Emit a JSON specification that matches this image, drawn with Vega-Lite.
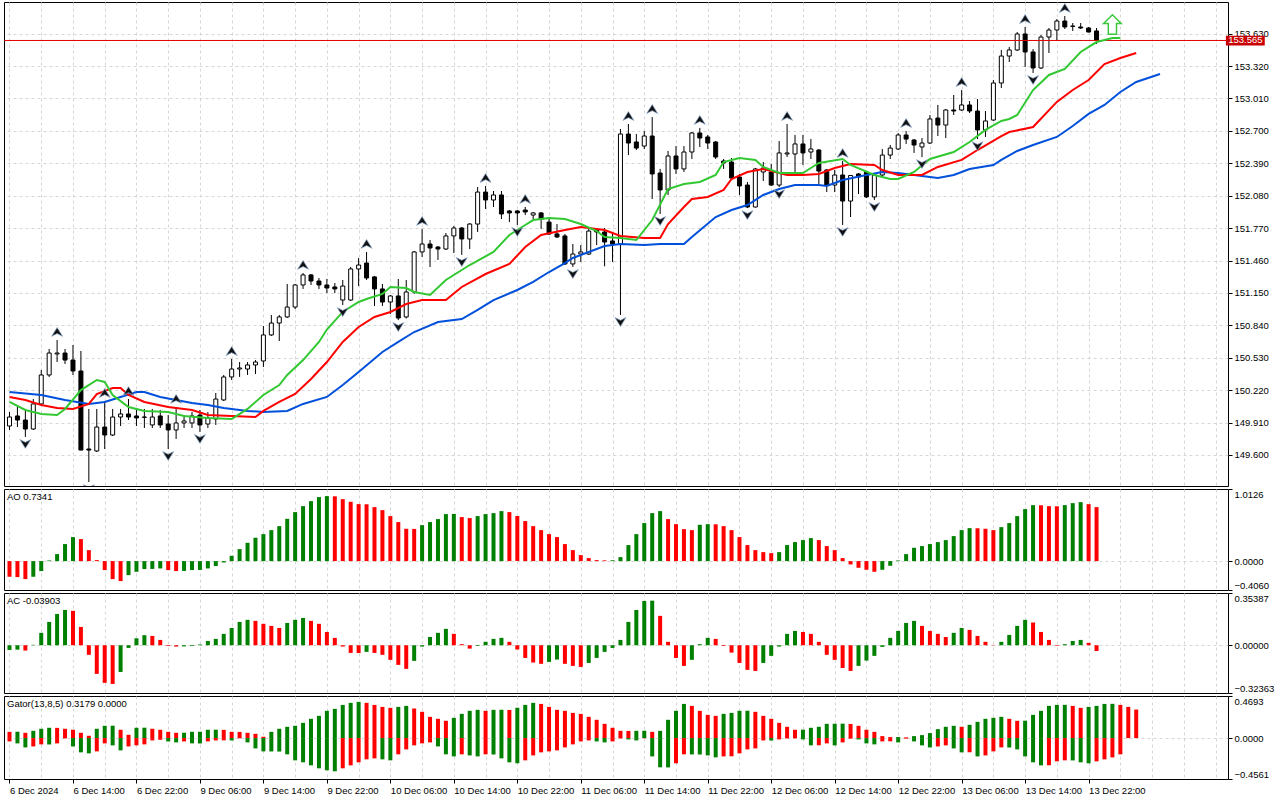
{
  "$schema": "https://vega.github.io/schema/vega-lite/v6.json",
  "background": "#ffffff",
  "padding": {"left": 3, "top": 1, "right": 4, "bottom": 2},
  "spacing": 3,
  "bounds": "flush",
  "resolve": {"scale": {"color": "independent"}},
  "config": {
    "view": {"stroke": "#000000", "strokeWidth": 1},
    "font": "Liberation Sans",
    "axis": {
      "labelFont": "Liberation Sans",
      "labelFontSize": 9.5,
      "labelColor": "#000000",
      "tickColor": "#000000",
      "gridColor": "#d6d6d6",
      "gridDash": [3, 3],
      "domain": false,
      "labelOverlap": false
    },
    "title": {"font": "Liberation Sans", "fontSize": 9.5, "fontWeight": "normal", "color": "#000000", "anchor": "start"}
  },
  "datasets": {
    "candles": [
      {"i":0,"o":149.877,"h":150.011,"l":149.839,"c":149.963},
      {"i":1,"o":149.973,"h":150.059,"l":149.867,"c":149.934},
      {"i":2,"o":149.934,"h":150.040,"l":149.772,"c":149.848},
      {"i":3,"o":149.848,"h":150.135,"l":149.839,"c":150.088},
      {"i":4,"o":150.088,"h":150.413,"l":150.078,"c":150.365},
      {"i":5,"o":150.365,"h":150.614,"l":150.346,"c":150.575},
      {"i":6,"o":150.566,"h":150.700,"l":150.489,"c":150.575},
      {"i":7,"o":150.575,"h":150.614,"l":150.470,"c":150.508},
      {"i":8,"o":150.508,"h":150.652,"l":150.365,"c":150.403},
      {"i":9,"o":150.403,"h":150.595,"l":149.645,"c":149.647},
      {"i":10,"o":149.657,"h":150.040,"l":149.341,"c":149.647},
      {"i":11,"o":149.638,"h":150.040,"l":149.628,"c":149.867},
      {"i":12,"o":149.867,"h":150.116,"l":149.657,"c":149.791},
      {"i":13,"o":149.791,"h":150.040,"l":149.781,"c":149.963},
      {"i":14,"o":149.963,"h":150.040,"l":149.877,"c":149.992},
      {"i":15,"o":149.992,"h":150.135,"l":149.934,"c":149.963},
      {"i":16,"o":149.973,"h":150.049,"l":149.877,"c":149.954},
      {"i":17,"o":149.963,"h":150.040,"l":149.858,"c":149.960},
      {"i":18,"o":149.887,"h":150.040,"l":149.858,"c":149.963},
      {"i":19,"o":149.973,"h":150.030,"l":149.858,"c":149.887},
      {"i":20,"o":149.896,"h":149.982,"l":149.657,"c":149.839},
      {"i":21,"o":149.839,"h":150.059,"l":149.753,"c":149.906},
      {"i":22,"o":149.906,"h":149.982,"l":149.858,"c":149.925},
      {"i":23,"o":149.906,"h":150.011,"l":149.858,"c":149.973},
      {"i":24,"o":149.982,"h":150.030,"l":149.820,"c":149.887},
      {"i":25,"o":149.896,"h":150.011,"l":149.858,"c":149.954},
      {"i":26,"o":149.944,"h":150.193,"l":149.887,"c":150.135},
      {"i":27,"o":150.126,"h":150.365,"l":150.116,"c":150.346},
      {"i":28,"o":150.346,"h":150.518,"l":150.317,"c":150.422},
      {"i":29,"o":150.422,"h":150.489,"l":150.346,"c":150.432},
      {"i":30,"o":150.422,"h":150.489,"l":150.365,"c":150.461},
      {"i":31,"o":150.461,"h":150.508,"l":150.374,"c":150.489},
      {"i":32,"o":150.499,"h":150.834,"l":150.441,"c":150.748},
      {"i":33,"o":150.748,"h":150.939,"l":150.738,"c":150.862},
      {"i":34,"o":150.862,"h":150.939,"l":150.690,"c":150.920},
      {"i":35,"o":150.920,"h":151.236,"l":150.910,"c":151.015},
      {"i":36,"o":151.015,"h":151.236,"l":150.996,"c":151.226},
      {"i":37,"o":151.226,"h":151.341,"l":151.188,"c":151.322},
      {"i":38,"o":151.322,"h":151.331,"l":151.226,"c":151.264},
      {"i":39,"o":151.264,"h":151.293,"l":151.188,"c":151.226},
      {"i":40,"o":151.226,"h":151.283,"l":151.149,"c":151.197},
      {"i":41,"o":151.207,"h":151.245,"l":151.149,"c":151.188},
      {"i":42,"o":151.082,"h":151.274,"l":151.034,"c":151.216},
      {"i":43,"o":151.082,"h":151.398,"l":151.073,"c":151.379},
      {"i":44,"o":151.379,"h":151.484,"l":151.216,"c":151.417},
      {"i":45,"o":151.436,"h":151.542,"l":151.274,"c":151.293},
      {"i":46,"o":151.303,"h":151.312,"l":151.025,"c":151.188},
      {"i":47,"o":151.188,"h":151.236,"l":151.025,"c":151.063},
      {"i":48,"o":151.063,"h":151.130,"l":150.948,"c":151.121},
      {"i":49,"o":151.121,"h":151.283,"l":150.891,"c":150.910},
      {"i":50,"o":150.920,"h":151.274,"l":150.905,"c":151.159},
      {"i":51,"o":151.159,"h":151.551,"l":151.140,"c":151.542},
      {"i":52,"o":151.542,"h":151.762,"l":151.494,"c":151.618},
      {"i":53,"o":151.618,"h":151.656,"l":151.398,"c":151.580},
      {"i":54,"o":151.589,"h":151.599,"l":151.465,"c":151.570},
      {"i":55,"o":151.570,"h":151.723,"l":151.561,"c":151.695},
      {"i":56,"o":151.695,"h":151.790,"l":151.532,"c":151.771},
      {"i":57,"o":151.771,"h":151.781,"l":151.513,"c":151.666},
      {"i":58,"o":151.666,"h":151.819,"l":151.570,"c":151.809},
      {"i":59,"o":151.809,"h":152.163,"l":151.733,"c":152.115},
      {"i":60,"o":152.115,"h":152.173,"l":151.953,"c":152.039},
      {"i":61,"o":152.039,"h":152.125,"l":151.972,"c":152.087},
      {"i":62,"o":152.087,"h":152.125,"l":151.857,"c":151.905},
      {"i":63,"o":151.934,"h":151.943,"l":151.828,"c":151.915},
      {"i":64,"o":151.934,"h":151.943,"l":151.800,"c":151.915},
      {"i":65,"o":151.943,"h":151.972,"l":151.895,"c":151.924},
      {"i":66,"o":151.895,"h":151.924,"l":151.857,"c":151.915},
      {"i":67,"o":151.915,"h":151.924,"l":151.762,"c":151.857},
      {"i":68,"o":151.828,"h":151.876,"l":151.704,"c":151.714},
      {"i":69,"o":151.714,"h":151.809,"l":151.675,"c":151.685},
      {"i":70,"o":151.695,"h":151.714,"l":151.417,"c":151.427},
      {"i":71,"o":151.427,"h":151.618,"l":151.398,"c":151.522},
      {"i":72,"o":151.522,"h":151.608,"l":151.446,"c":151.542},
      {"i":73,"o":151.522,"h":151.762,"l":151.513,"c":151.742},
      {"i":74,"o":151.752,"h":151.762,"l":151.608,"c":151.733},
      {"i":75,"o":151.733,"h":151.771,"l":151.405,"c":151.637},
      {"i":76,"o":151.647,"h":151.733,"l":151.446,"c":151.618},
      {"i":77,"o":151.618,"h":152.718,"l":150.939,"c":152.670},
      {"i":78,"o":152.670,"h":152.766,"l":152.469,"c":152.584},
      {"i":79,"o":152.594,"h":152.670,"l":152.517,"c":152.536},
      {"i":80,"o":152.555,"h":152.699,"l":152.527,"c":152.651},
      {"i":81,"o":152.651,"h":152.833,"l":152.048,"c":152.288},
      {"i":82,"o":152.297,"h":152.336,"l":151.905,"c":152.135},
      {"i":83,"o":152.135,"h":152.508,"l":152.087,"c":152.460},
      {"i":84,"o":152.460,"h":152.555,"l":152.288,"c":152.336},
      {"i":85,"o":152.336,"h":152.555,"l":152.307,"c":152.498},
      {"i":86,"o":152.498,"h":152.689,"l":152.431,"c":152.680},
      {"i":87,"o":152.680,"h":152.728,"l":152.546,"c":152.632},
      {"i":88,"o":152.642,"h":152.661,"l":152.527,"c":152.584},
      {"i":89,"o":152.594,"h":152.603,"l":152.431,"c":152.450},
      {"i":90,"o":152.412,"h":152.431,"l":152.336,"c":152.393},
      {"i":91,"o":152.402,"h":152.441,"l":152.240,"c":152.249},
      {"i":92,"o":152.259,"h":152.288,"l":152.087,"c":152.173},
      {"i":93,"o":152.182,"h":152.211,"l":151.962,"c":151.972},
      {"i":94,"o":151.972,"h":152.345,"l":151.967,"c":152.336},
      {"i":95,"o":152.307,"h":152.402,"l":152.221,"c":152.345},
      {"i":96,"o":152.307,"h":152.383,"l":152.173,"c":152.182},
      {"i":97,"o":152.182,"h":152.603,"l":152.163,"c":152.489},
      {"i":98,"o":152.479,"h":152.766,"l":152.450,"c":152.489},
      {"i":99,"o":152.479,"h":152.661,"l":152.307,"c":152.575},
      {"i":100,"o":152.575,"h":152.661,"l":152.374,"c":152.489},
      {"i":101,"o":152.498,"h":152.622,"l":152.431,"c":152.527},
      {"i":102,"o":152.517,"h":152.527,"l":152.192,"c":152.316},
      {"i":103,"o":152.326,"h":152.336,"l":152.115,"c":152.182},
      {"i":104,"o":152.182,"h":152.326,"l":152.115,"c":152.278},
      {"i":105,"o":152.278,"h":152.412,"l":151.800,"c":152.029},
      {"i":106,"o":152.029,"h":152.278,"l":151.876,"c":152.273},
      {"i":107,"o":152.288,"h":152.297,"l":152.096,"c":152.259},
      {"i":108,"o":152.307,"h":152.316,"l":152.058,"c":152.068},
      {"i":109,"o":152.068,"h":152.288,"l":152.039,"c":152.278},
      {"i":110,"o":152.278,"h":152.527,"l":152.259,"c":152.469},
      {"i":111,"o":152.469,"h":152.565,"l":152.431,"c":152.536},
      {"i":112,"o":152.527,"h":152.680,"l":152.517,"c":152.661},
      {"i":113,"o":152.661,"h":152.699,"l":152.575,"c":152.622},
      {"i":114,"o":152.613,"h":152.622,"l":152.489,"c":152.565},
      {"i":115,"o":152.546,"h":152.632,"l":152.450,"c":152.584},
      {"i":116,"o":152.584,"h":152.852,"l":152.575,"c":152.814},
      {"i":117,"o":152.823,"h":152.948,"l":152.651,"c":152.756},
      {"i":118,"o":152.756,"h":152.909,"l":152.632,"c":152.900},
      {"i":119,"o":152.900,"h":153.043,"l":152.852,"c":152.890},
      {"i":120,"o":152.900,"h":153.091,"l":152.890,"c":152.948},
      {"i":121,"o":152.948,"h":152.986,"l":152.871,"c":152.890},
      {"i":122,"o":152.890,"h":153.005,"l":152.622,"c":152.709},
      {"i":123,"o":152.709,"h":152.890,"l":152.642,"c":152.795},
      {"i":124,"o":152.804,"h":153.187,"l":152.795,"c":153.158},
      {"i":125,"o":153.158,"h":153.474,"l":153.110,"c":153.416},
      {"i":126,"o":153.416,"h":153.503,"l":153.359,"c":153.474},
      {"i":127,"o":153.474,"h":153.646,"l":153.464,"c":153.627},
      {"i":128,"o":153.627,"h":153.694,"l":153.311,"c":153.455},
      {"i":129,"o":153.455,"h":153.483,"l":153.254,"c":153.302},
      {"i":130,"o":153.302,"h":153.617,"l":153.292,"c":153.598},
      {"i":131,"o":153.598,"h":153.684,"l":153.445,"c":153.665},
      {"i":132,"o":153.665,"h":153.770,"l":153.560,"c":153.751},
      {"i":133,"o":153.751,"h":153.799,"l":153.675,"c":153.694},
      {"i":134,"o":153.703,"h":153.732,"l":153.656,"c":153.700},
      {"i":135,"o":153.694,"h":153.732,"l":153.675,"c":153.684},
      {"i":136,"o":153.684,"h":153.694,"l":153.641,"c":153.646},
      {"i":137,"o":153.656,"h":153.684,"l":153.531,"c":153.565}
    ],
    "alligator": [
      {"i":0,"line":"jaw","v":150.202},{"i":4,"line":"jaw","v":150.174},{"i":7,"line":"jaw","v":150.126},{"i":10,"line":"jaw","v":150.088},
      {"i":12,"line":"jaw","v":150.107},{"i":14,"line":"jaw","v":150.155},{"i":16,"line":"jaw","v":150.202},{"i":17,"line":"jaw","v":150.202},
      {"i":19,"line":"jaw","v":150.155},{"i":21,"line":"jaw","v":150.126},{"i":23,"line":"jaw","v":150.097},{"i":25,"line":"jaw","v":150.078},
      {"i":27,"line":"jaw","v":150.049},{"i":30,"line":"jaw","v":150.021},{"i":32,"line":"jaw","v":150.011},{"i":35,"line":"jaw","v":150.021},
      {"i":37,"line":"jaw","v":150.088},{"i":40,"line":"jaw","v":150.155},{"i":42,"line":"jaw","v":150.269},{"i":44,"line":"jaw","v":150.394},
      {"i":47,"line":"jaw","v":150.585},{"i":49,"line":"jaw","v":150.681},{"i":51,"line":"jaw","v":150.776},{"i":54,"line":"jaw","v":150.872},
      {"i":57,"line":"jaw","v":150.900},{"i":59,"line":"jaw","v":150.987},{"i":61,"line":"jaw","v":151.082},{"i":64,"line":"jaw","v":151.178},
      {"i":66,"line":"jaw","v":151.255},{"i":68,"line":"jaw","v":151.350},{"i":70,"line":"jaw","v":151.436},{"i":71,"line":"jaw","v":151.484},
      {"i":73,"line":"jaw","v":151.542},{"i":75,"line":"jaw","v":151.599},{"i":77,"line":"jaw","v":151.618},{"i":80,"line":"jaw","v":151.608},
      {"i":82,"line":"jaw","v":151.618},{"i":85,"line":"jaw","v":151.618},{"i":86,"line":"jaw","v":151.685},{"i":89,"line":"jaw","v":151.876},
      {"i":91,"line":"jaw","v":151.943},{"i":93,"line":"jaw","v":151.991},{"i":95,"line":"jaw","v":152.087},{"i":97,"line":"jaw","v":152.144},
      {"i":99,"line":"jaw","v":152.182},{"i":102,"line":"jaw","v":152.182},{"i":103,"line":"jaw","v":152.173},{"i":105,"line":"jaw","v":152.230},
      {"i":108,"line":"jaw","v":152.278},{"i":110,"line":"jaw","v":152.307},{"i":112,"line":"jaw","v":152.297},{"i":115,"line":"jaw","v":152.268},
      {"i":117,"line":"jaw","v":152.249},{"i":119,"line":"jaw","v":152.278},{"i":121,"line":"jaw","v":152.336},{"i":124,"line":"jaw","v":152.374},
      {"i":125,"line":"jaw","v":152.422},{"i":127,"line":"jaw","v":152.508},{"i":129,"line":"jaw","v":152.565},{"i":132,"line":"jaw","v":152.642},
      {"i":134,"line":"jaw","v":152.747},{"i":136,"line":"jaw","v":152.862},{"i":138,"line":"jaw","v":152.948},{"i":140,"line":"jaw","v":153.072},
      {"i":142,"line":"jaw","v":153.168},{"i":145,"line":"jaw","v":153.244},
      {"i":0,"line":"teeth","v":150.155},{"i":2,"line":"teeth","v":150.126},{"i":4,"line":"teeth","v":150.078},{"i":6,"line":"teeth","v":150.049},
      {"i":8,"line":"teeth","v":150.040},{"i":10,"line":"teeth","v":150.088},{"i":11,"line":"teeth","v":150.183},{"i":13,"line":"teeth","v":150.241},
      {"i":14,"line":"teeth","v":150.241},{"i":15,"line":"teeth","v":150.174},{"i":17,"line":"teeth","v":150.107},{"i":20,"line":"teeth","v":150.059},
      {"i":23,"line":"teeth","v":150.030},{"i":25,"line":"teeth","v":149.982},{"i":28,"line":"teeth","v":149.973},{"i":31,"line":"teeth","v":149.963},
      {"i":32,"line":"teeth","v":150.021},{"i":34,"line":"teeth","v":150.107},{"i":36,"line":"teeth","v":150.183},{"i":38,"line":"teeth","v":150.327},
      {"i":40,"line":"teeth","v":150.489},{"i":42,"line":"teeth","v":150.681},{"i":44,"line":"teeth","v":150.824},{"i":46,"line":"teeth","v":150.920},
      {"i":48,"line":"teeth","v":150.968},{"i":50,"line":"teeth","v":151.044},{"i":52,"line":"teeth","v":151.082},{"i":55,"line":"teeth","v":151.082},
      {"i":57,"line":"teeth","v":151.207},{"i":60,"line":"teeth","v":151.331},{"i":63,"line":"teeth","v":151.427},{"i":65,"line":"teeth","v":151.589},
      {"i":67,"line":"teeth","v":151.704},{"i":70,"line":"teeth","v":151.752},{"i":72,"line":"teeth","v":151.781},{"i":74,"line":"teeth","v":151.762},
      {"i":75,"line":"teeth","v":151.752},{"i":77,"line":"teeth","v":151.695},{"i":80,"line":"teeth","v":151.675},{"i":82,"line":"teeth","v":151.675},
      {"i":83,"line":"teeth","v":151.809},{"i":85,"line":"teeth","v":151.972},{"i":86,"line":"teeth","v":152.048},{"i":88,"line":"teeth","v":152.068},
      {"i":90,"line":"teeth","v":152.135},{"i":91,"line":"teeth","v":152.240},{"i":93,"line":"teeth","v":152.307},{"i":95,"line":"teeth","v":152.336},
      {"i":96,"line":"teeth","v":152.316},{"i":98,"line":"teeth","v":152.278},{"i":100,"line":"teeth","v":152.278},{"i":102,"line":"teeth","v":152.288},
      {"i":104,"line":"teeth","v":152.345},{"i":106,"line":"teeth","v":152.383},{"i":109,"line":"teeth","v":152.374},{"i":110,"line":"teeth","v":152.326},
      {"i":112,"line":"teeth","v":152.278},{"i":115,"line":"teeth","v":152.278},{"i":117,"line":"teeth","v":152.355},{"i":120,"line":"teeth","v":152.422},
      {"i":122,"line":"teeth","v":152.517},{"i":125,"line":"teeth","v":152.651},{"i":126,"line":"teeth","v":152.689},{"i":129,"line":"teeth","v":152.737},
      {"i":132,"line":"teeth","v":152.977},{"i":134,"line":"teeth","v":153.091},{"i":136,"line":"teeth","v":153.187},{"i":138,"line":"teeth","v":153.340},
      {"i":140,"line":"teeth","v":153.397},{"i":142,"line":"teeth","v":153.445},
      {"i":0,"line":"lips","v":150.107},{"i":2,"line":"lips","v":150.030},{"i":4,"line":"lips","v":149.992},{"i":6,"line":"lips","v":149.982},
      {"i":7,"line":"lips","v":150.040},{"i":9,"line":"lips","v":150.221},{"i":11,"line":"lips","v":150.317},{"i":12,"line":"lips","v":150.298},
      {"i":13,"line":"lips","v":150.174},{"i":15,"line":"lips","v":150.059},{"i":17,"line":"lips","v":150.021},{"i":20,"line":"lips","v":150.011},
      {"i":22,"line":"lips","v":149.973},{"i":25,"line":"lips","v":149.954},{"i":28,"line":"lips","v":149.944},{"i":30,"line":"lips","v":150.040},
      {"i":32,"line":"lips","v":150.174},{"i":34,"line":"lips","v":150.269},{"i":35,"line":"lips","v":150.365},{"i":37,"line":"lips","v":150.508},
      {"i":39,"line":"lips","v":150.681},{"i":40,"line":"lips","v":150.800},{"i":42,"line":"lips","v":150.968},{"i":44,"line":"lips","v":151.063},
      {"i":45,"line":"lips","v":151.092},{"i":47,"line":"lips","v":151.140},{"i":48,"line":"lips","v":151.207},{"i":50,"line":"lips","v":151.197},
      {"i":51,"line":"lips","v":151.159},{"i":53,"line":"lips","v":151.130},{"i":55,"line":"lips","v":151.274},{"i":58,"line":"lips","v":151.417},
      {"i":61,"line":"lips","v":151.542},{"i":63,"line":"lips","v":151.704},{"i":65,"line":"lips","v":151.800},{"i":66,"line":"lips","v":151.847},
      {"i":68,"line":"lips","v":151.866},{"i":70,"line":"lips","v":151.857},{"i":72,"line":"lips","v":151.809},{"i":74,"line":"lips","v":151.742},
      {"i":75,"line":"lips","v":151.685},{"i":77,"line":"lips","v":151.675},{"i":79,"line":"lips","v":151.656},{"i":81,"line":"lips","v":151.847},
      {"i":83,"line":"lips","v":152.144},{"i":85,"line":"lips","v":152.192},{"i":87,"line":"lips","v":152.211},{"i":89,"line":"lips","v":152.278},
      {"i":90,"line":"lips","v":152.402},{"i":92,"line":"lips","v":152.441},{"i":94,"line":"lips","v":152.422},{"i":95,"line":"lips","v":152.355},
      {"i":97,"line":"lips","v":152.297},{"i":100,"line":"lips","v":152.297},{"i":101,"line":"lips","v":152.345},{"i":102,"line":"lips","v":152.393},
      {"i":105,"line":"lips","v":152.431},{"i":106,"line":"lips","v":152.374},{"i":109,"line":"lips","v":152.278},{"i":111,"line":"lips","v":152.240},
      {"i":112,"line":"lips","v":152.240},{"i":114,"line":"lips","v":152.307},{"i":116,"line":"lips","v":152.431},{"i":119,"line":"lips","v":152.498},
      {"i":121,"line":"lips","v":152.594},{"i":123,"line":"lips","v":152.709},{"i":125,"line":"lips","v":152.795},{"i":126,"line":"lips","v":152.814},
      {"i":127,"line":"lips","v":152.852},{"i":129,"line":"lips","v":153.091},{"i":131,"line":"lips","v":153.235},{"i":133,"line":"lips","v":153.292},
      {"i":135,"line":"lips","v":153.455},{"i":137,"line":"lips","v":153.550},{"i":139,"line":"lips","v":153.589},{"i":140,"line":"lips","v":153.589}
    ],
    "fractalUp": [
      {"i":6,"price":150.700},{"i":12,"price":150.116},{"i":15,"price":150.135},{"i":21,"price":150.059},{"i":28,"price":150.518},
      {"i":37,"price":151.341},{"i":45,"price":151.542},{"i":52,"price":151.762},{"i":60,"price":152.173},{"i":65,"price":151.972},
      {"i":78,"price":152.766},{"i":81,"price":152.833},{"i":87,"price":152.728},{"i":98,"price":152.766},{"i":105,"price":152.412},
      {"i":113,"price":152.699},{"i":120,"price":153.091},{"i":128,"price":153.694},{"i":133,"price":153.799}
    ],
    "fractalDown": [
      {"i":2,"price":149.772},{"i":10,"price":149.341},{"i":20,"price":149.657},{"i":24,"price":149.820},{"i":42,"price":151.034},
      {"i":49,"price":150.891},{"i":57,"price":151.513},{"i":64,"price":151.800},{"i":71,"price":151.398},{"i":77,"price":150.939},
      {"i":82,"price":151.905},{"i":93,"price":151.962},{"i":97,"price":152.163},{"i":105,"price":151.800},{"i":109,"price":152.039},
      {"i":115,"price":152.450},{"i":122,"price":152.622},{"i":129,"price":153.254}
    ],
    "signal": [{"i":139,"price":153.718}],
    "bid": [{"price":153.565,"label":"153.565"}],
    "ao": [
      {"i":0,"v":-0.220,"dir":"down"},{"i":1,"v":-0.225,"dir":"down"},{"i":2,"v":-0.253,"dir":"down"},{"i":3,"v":-0.220,"dir":"up"},
      {"i":4,"v":-0.140,"dir":"up"},{"i":5,"v":0.009,"dir":"up"},{"i":6,"v":0.098,"dir":"up"},{"i":7,"v":0.239,"dir":"up"},
      {"i":8,"v":0.337,"dir":"up"},{"i":9,"v":0.309,"dir":"down"},{"i":10,"v":0.154,"dir":"down"},{"i":11,"v":0.014,"dir":"down"},
      {"i":12,"v":-0.126,"dir":"down"},{"i":13,"v":-0.253,"dir":"down"},{"i":14,"v":-0.281,"dir":"down"},{"i":15,"v":-0.197,"dir":"up"},
      {"i":16,"v":-0.150,"dir":"up"},{"i":17,"v":-0.112,"dir":"up"},{"i":18,"v":-0.110,"dir":"up"},{"i":19,"v":-0.103,"dir":"up"},
      {"i":20,"v":-0.126,"dir":"down"},{"i":21,"v":-0.140,"dir":"down"},{"i":22,"v":-0.138,"dir":"up"},{"i":23,"v":-0.126,"dir":"up"},
      {"i":24,"v":-0.124,"dir":"up"},{"i":25,"v":-0.103,"dir":"up"},{"i":26,"v":-0.070,"dir":"up"},{"i":27,"v":-0.019,"dir":"up"},
      {"i":28,"v":0.075,"dir":"up"},{"i":29,"v":0.168,"dir":"up"},{"i":30,"v":0.257,"dir":"up"},{"i":31,"v":0.328,"dir":"up"},
      {"i":32,"v":0.379,"dir":"up"},{"i":33,"v":0.435,"dir":"up"},{"i":34,"v":0.491,"dir":"up"},{"i":35,"v":0.594,"dir":"up"},
      {"i":36,"v":0.688,"dir":"up"},{"i":37,"v":0.772,"dir":"up"},{"i":38,"v":0.842,"dir":"up"},{"i":39,"v":0.899,"dir":"up"},
      {"i":40,"v":0.913,"dir":"up"},{"i":41,"v":0.910,"dir":"down"},{"i":42,"v":0.870,"dir":"down"},{"i":43,"v":0.833,"dir":"down"},
      {"i":44,"v":0.800,"dir":"down"},{"i":45,"v":0.798,"dir":"down"},{"i":46,"v":0.758,"dir":"down"},{"i":47,"v":0.716,"dir":"down"},
      {"i":48,"v":0.632,"dir":"down"},{"i":49,"v":0.548,"dir":"down"},{"i":50,"v":0.454,"dir":"down"},{"i":51,"v":0.452,"dir":"down"},
      {"i":52,"v":0.505,"dir":"up"},{"i":53,"v":0.548,"dir":"up"},{"i":54,"v":0.590,"dir":"up"},{"i":55,"v":0.660,"dir":"up"},
      {"i":56,"v":0.662,"dir":"up"},{"i":57,"v":0.618,"dir":"down"},{"i":58,"v":0.604,"dir":"down"},{"i":59,"v":0.632,"dir":"up"},
      {"i":60,"v":0.660,"dir":"up"},{"i":61,"v":0.674,"dir":"up"},{"i":62,"v":0.702,"dir":"up"},{"i":63,"v":0.688,"dir":"down"},
      {"i":64,"v":0.632,"dir":"down"},{"i":65,"v":0.562,"dir":"down"},{"i":66,"v":0.491,"dir":"down"},{"i":67,"v":0.435,"dir":"down"},
      {"i":68,"v":0.379,"dir":"down"},{"i":69,"v":0.337,"dir":"down"},{"i":70,"v":0.239,"dir":"down"},{"i":71,"v":0.154,"dir":"down"},
      {"i":72,"v":0.084,"dir":"down"},{"i":73,"v":0.042,"dir":"down"},{"i":74,"v":0.014,"dir":"down"},{"i":75,"v":0.010,"dir":"down"},
      {"i":76,"v":0.012,"dir":"up"},{"i":77,"v":0.056,"dir":"up"},{"i":78,"v":0.225,"dir":"up"},{"i":79,"v":0.379,"dir":"up"},
      {"i":80,"v":0.534,"dir":"up"},{"i":81,"v":0.674,"dir":"up"},{"i":82,"v":0.702,"dir":"up"},{"i":83,"v":0.590,"dir":"down"},
      {"i":84,"v":0.519,"dir":"down"},{"i":85,"v":0.449,"dir":"down"},{"i":86,"v":0.435,"dir":"down"},{"i":87,"v":0.510,"dir":"up"},
      {"i":88,"v":0.519,"dir":"up"},{"i":89,"v":0.517,"dir":"down"},{"i":90,"v":0.491,"dir":"down"},{"i":91,"v":0.435,"dir":"down"},
      {"i":92,"v":0.337,"dir":"down"},{"i":93,"v":0.225,"dir":"down"},{"i":94,"v":0.154,"dir":"down"},{"i":95,"v":0.126,"dir":"down"},
      {"i":96,"v":0.112,"dir":"down"},{"i":97,"v":0.126,"dir":"up"},{"i":98,"v":0.225,"dir":"up"},{"i":99,"v":0.267,"dir":"up"},
      {"i":100,"v":0.295,"dir":"up"},{"i":101,"v":0.323,"dir":"up"},{"i":102,"v":0.295,"dir":"down"},{"i":103,"v":0.211,"dir":"down"},
      {"i":104,"v":0.154,"dir":"down"},{"i":105,"v":0.042,"dir":"down"},{"i":106,"v":-0.047,"dir":"down"},{"i":107,"v":-0.094,"dir":"down"},
      {"i":108,"v":-0.122,"dir":"down"},{"i":109,"v":-0.150,"dir":"down"},{"i":110,"v":-0.122,"dir":"up"},{"i":111,"v":-0.066,"dir":"up"},
      {"i":112,"v":0.009,"dir":"up"},{"i":113,"v":0.098,"dir":"up"},{"i":114,"v":0.187,"dir":"up"},{"i":115,"v":0.211,"dir":"up"},
      {"i":116,"v":0.239,"dir":"up"},{"i":117,"v":0.267,"dir":"up"},{"i":118,"v":0.295,"dir":"up"},{"i":119,"v":0.351,"dir":"up"},
      {"i":120,"v":0.435,"dir":"up"},{"i":121,"v":0.463,"dir":"up"},{"i":122,"v":0.461,"dir":"down"},{"i":123,"v":0.454,"dir":"down"},
      {"i":124,"v":0.435,"dir":"down"},{"i":125,"v":0.477,"dir":"up"},{"i":126,"v":0.534,"dir":"up"},{"i":127,"v":0.632,"dir":"up"},
      {"i":128,"v":0.730,"dir":"up"},{"i":129,"v":0.786,"dir":"up"},{"i":130,"v":0.784,"dir":"down"},{"i":131,"v":0.772,"dir":"down"},
      {"i":132,"v":0.770,"dir":"down"},{"i":133,"v":0.786,"dir":"up"},{"i":134,"v":0.814,"dir":"up"},{"i":135,"v":0.828,"dir":"up"},
      {"i":136,"v":0.800,"dir":"down"},{"i":137,"v":0.758,"dir":"down"}
    ],
    "ac": [
      {"i":0,"v":-0.032,"dir":"up"},{"i":1,"v":-0.030,"dir":"up"},{"i":2,"v":-0.036,"dir":"down"},{"i":3,"v":0.003,"dir":"up"},
      {"i":4,"v":0.084,"dir":"up"},{"i":5,"v":0.158,"dir":"up"},{"i":6,"v":0.212,"dir":"up"},{"i":7,"v":0.239,"dir":"up"},
      {"i":8,"v":0.233,"dir":"down"},{"i":9,"v":0.124,"dir":"down"},{"i":10,"v":-0.065,"dir":"down"},{"i":11,"v":-0.194,"dir":"down"},
      {"i":12,"v":-0.255,"dir":"down"},{"i":13,"v":-0.262,"dir":"down"},{"i":14,"v":-0.181,"dir":"up"},{"i":15,"v":-0.018,"dir":"up"},
      {"i":16,"v":0.047,"dir":"up"},{"i":17,"v":0.068,"dir":"up"},{"i":18,"v":0.063,"dir":"down"},{"i":19,"v":0.036,"dir":"down"},
      {"i":20,"v":-0.005,"dir":"down"},{"i":21,"v":-0.009,"dir":"down"},{"i":22,"v":-0.008,"dir":"up"},{"i":23,"v":-0.005,"dir":"up"},
      {"i":24,"v":0.005,"dir":"up"},{"i":25,"v":0.029,"dir":"up"},{"i":26,"v":0.043,"dir":"up"},{"i":27,"v":0.077,"dir":"up"},
      {"i":28,"v":0.117,"dir":"up"},{"i":29,"v":0.158,"dir":"up"},{"i":30,"v":0.172,"dir":"up"},{"i":31,"v":0.165,"dir":"down"},
      {"i":32,"v":0.145,"dir":"down"},{"i":33,"v":0.131,"dir":"down"},{"i":34,"v":0.117,"dir":"down"},{"i":35,"v":0.151,"dir":"up"},
      {"i":36,"v":0.172,"dir":"up"},{"i":37,"v":0.185,"dir":"up"},{"i":38,"v":0.165,"dir":"down"},{"i":39,"v":0.145,"dir":"down"},
      {"i":40,"v":0.090,"dir":"down"},{"i":41,"v":0.050,"dir":"down"},{"i":42,"v":-0.009,"dir":"down"},{"i":43,"v":-0.052,"dir":"down"},
      {"i":44,"v":-0.053,"dir":"down"},{"i":45,"v":-0.045,"dir":"up"},{"i":46,"v":-0.052,"dir":"down"},{"i":47,"v":-0.065,"dir":"down"},
      {"i":48,"v":-0.099,"dir":"down"},{"i":49,"v":-0.133,"dir":"down"},{"i":50,"v":-0.160,"dir":"down"},{"i":51,"v":-0.106,"dir":"up"},
      {"i":52,"v":-0.009,"dir":"up"},{"i":53,"v":0.056,"dir":"up"},{"i":54,"v":0.084,"dir":"up"},{"i":55,"v":0.111,"dir":"up"},
      {"i":56,"v":0.077,"dir":"down"},{"i":57,"v":0.007,"dir":"down"},{"i":58,"v":-0.023,"dir":"down"},{"i":59,"v":-0.005,"dir":"up"},
      {"i":60,"v":0.023,"dir":"up"},{"i":61,"v":0.043,"dir":"up"},{"i":62,"v":0.050,"dir":"up"},{"i":63,"v":0.023,"dir":"down"},
      {"i":64,"v":-0.029,"dir":"down"},{"i":65,"v":-0.086,"dir":"down"},{"i":66,"v":-0.117,"dir":"down"},{"i":67,"v":-0.126,"dir":"down"},
      {"i":68,"v":-0.113,"dir":"up"},{"i":69,"v":-0.097,"dir":"up"},{"i":70,"v":-0.126,"dir":"down"},{"i":71,"v":-0.140,"dir":"down"},
      {"i":72,"v":-0.147,"dir":"down"},{"i":73,"v":-0.120,"dir":"up"},{"i":74,"v":-0.086,"dir":"up"},{"i":75,"v":-0.045,"dir":"up"},
      {"i":76,"v":-0.018,"dir":"up"},{"i":77,"v":0.036,"dir":"up"},{"i":78,"v":0.158,"dir":"up"},{"i":79,"v":0.239,"dir":"up"},
      {"i":80,"v":0.300,"dir":"up"},{"i":81,"v":0.302,"dir":"up"},{"i":82,"v":0.199,"dir":"down"},{"i":83,"v":0.023,"dir":"down"},
      {"i":84,"v":-0.086,"dir":"down"},{"i":85,"v":-0.140,"dir":"down"},{"i":86,"v":-0.099,"dir":"up"},{"i":87,"v":0.007,"dir":"up"},
      {"i":88,"v":0.050,"dir":"up"},{"i":89,"v":0.043,"dir":"down"},{"i":90,"v":-0.005,"dir":"down"},{"i":91,"v":-0.050,"dir":"down"},
      {"i":92,"v":-0.120,"dir":"down"},{"i":93,"v":-0.167,"dir":"down"},{"i":94,"v":-0.174,"dir":"down"},{"i":95,"v":-0.120,"dir":"up"},
      {"i":96,"v":-0.072,"dir":"up"},{"i":97,"v":-0.009,"dir":"up"},{"i":98,"v":0.077,"dir":"up"},{"i":99,"v":0.097,"dir":"up"},
      {"i":100,"v":0.090,"dir":"down"},{"i":101,"v":0.077,"dir":"down"},{"i":102,"v":0.023,"dir":"down"},{"i":103,"v":-0.065,"dir":"down"},
      {"i":104,"v":-0.099,"dir":"down"},{"i":105,"v":-0.154,"dir":"down"},{"i":106,"v":-0.174,"dir":"down"},{"i":107,"v":-0.140,"dir":"up"},
      {"i":108,"v":-0.104,"dir":"up"},{"i":109,"v":-0.072,"dir":"up"},{"i":110,"v":-0.011,"dir":"up"},{"i":111,"v":0.050,"dir":"up"},
      {"i":112,"v":0.097,"dir":"up"},{"i":113,"v":0.151,"dir":"up"},{"i":114,"v":0.165,"dir":"up"},{"i":115,"v":0.131,"dir":"down"},
      {"i":116,"v":0.097,"dir":"down"},{"i":117,"v":0.077,"dir":"down"},{"i":118,"v":0.056,"dir":"down"},{"i":119,"v":0.084,"dir":"up"},
      {"i":120,"v":0.117,"dir":"up"},{"i":121,"v":0.104,"dir":"down"},{"i":122,"v":0.063,"dir":"down"},{"i":123,"v":0.023,"dir":"down"},
      {"i":124,"v":0.002,"dir":"down"},{"i":125,"v":0.023,"dir":"up"},{"i":126,"v":0.070,"dir":"up"},{"i":127,"v":0.131,"dir":"up"},
      {"i":128,"v":0.172,"dir":"up"},{"i":129,"v":0.154,"dir":"down"},{"i":130,"v":0.090,"dir":"down"},{"i":131,"v":0.036,"dir":"down"},
      {"i":132,"v":-0.004,"dir":"down"},{"i":133,"v":0.007,"dir":"up"},{"i":134,"v":0.029,"dir":"up"},{"i":135,"v":0.036,"dir":"up"},
      {"i":136,"v":0.016,"dir":"down"},{"i":137,"v":-0.039,"dir":"down"}
    ],
    "gator": [
      {"i":0,"v":0.070,"dir":"down"},{"i":1,"v":0.071,"dir":"up"},{"i":2,"v":0.059,"dir":"down"},{"i":3,"v":0.081,"dir":"up"},
      {"i":4,"v":0.104,"dir":"up"},{"i":5,"v":0.115,"dir":"up"},{"i":6,"v":0.114,"dir":"down"},{"i":7,"v":0.104,"dir":"down"},
      {"i":8,"v":0.093,"dir":"down"},{"i":9,"v":0.059,"dir":"down"},{"i":10,"v":0.026,"dir":"down"},{"i":11,"v":0.104,"dir":"up"},
      {"i":12,"v":0.137,"dir":"up"},{"i":13,"v":0.138,"dir":"up"},{"i":14,"v":0.093,"dir":"down"},{"i":15,"v":0.037,"dir":"down"},
      {"i":16,"v":0.115,"dir":"up"},{"i":17,"v":0.116,"dir":"up"},{"i":18,"v":0.104,"dir":"down"},{"i":19,"v":0.093,"dir":"down"},
      {"i":20,"v":0.070,"dir":"down"},{"i":21,"v":0.059,"dir":"down"},{"i":22,"v":0.060,"dir":"up"},{"i":23,"v":0.070,"dir":"up"},
      {"i":24,"v":0.071,"dir":"up"},{"i":25,"v":0.093,"dir":"up"},{"i":26,"v":0.094,"dir":"up"},{"i":27,"v":0.092,"dir":"down"},
      {"i":28,"v":0.070,"dir":"down"},{"i":29,"v":0.069,"dir":"down"},{"i":30,"v":0.059,"dir":"down"},{"i":31,"v":0.048,"dir":"down"},
      {"i":32,"v":0.015,"dir":"down"},{"i":33,"v":0.070,"dir":"up"},{"i":34,"v":0.104,"dir":"up"},{"i":35,"v":0.126,"dir":"up"},
      {"i":36,"v":0.137,"dir":"up"},{"i":37,"v":0.170,"dir":"up"},{"i":38,"v":0.215,"dir":"up"},{"i":39,"v":0.248,"dir":"up"},
      {"i":40,"v":0.304,"dir":"up"},{"i":41,"v":0.326,"dir":"up"},{"i":42,"v":0.370,"dir":"up"},{"i":43,"v":0.393,"dir":"up"},
      {"i":44,"v":0.404,"dir":"up"},{"i":45,"v":0.393,"dir":"down"},{"i":46,"v":0.370,"dir":"down"},{"i":47,"v":0.348,"dir":"down"},
      {"i":48,"v":0.337,"dir":"down"},{"i":49,"v":0.348,"dir":"up"},{"i":50,"v":0.359,"dir":"up"},{"i":51,"v":0.330,"dir":"down"},
      {"i":52,"v":0.293,"dir":"down"},{"i":53,"v":0.237,"dir":"down"},{"i":54,"v":0.215,"dir":"down"},{"i":55,"v":0.193,"dir":"down"},
      {"i":56,"v":0.226,"dir":"up"},{"i":57,"v":0.270,"dir":"up"},{"i":58,"v":0.304,"dir":"up"},{"i":59,"v":0.315,"dir":"up"},
      {"i":60,"v":0.304,"dir":"down"},{"i":61,"v":0.315,"dir":"up"},{"i":62,"v":0.316,"dir":"up"},{"i":63,"v":0.314,"dir":"down"},
      {"i":64,"v":0.337,"dir":"up"},{"i":65,"v":0.370,"dir":"up"},{"i":66,"v":0.393,"dir":"up"},{"i":67,"v":0.381,"dir":"down"},
      {"i":68,"v":0.348,"dir":"down"},{"i":69,"v":0.315,"dir":"down"},{"i":70,"v":0.304,"dir":"down"},{"i":71,"v":0.281,"dir":"down"},
      {"i":72,"v":0.270,"dir":"down"},{"i":73,"v":0.237,"dir":"down"},{"i":74,"v":0.204,"dir":"down"},{"i":75,"v":0.159,"dir":"down"},
      {"i":76,"v":0.115,"dir":"down"},{"i":77,"v":0.081,"dir":"down"},{"i":78,"v":0.080,"dir":"down"},{"i":79,"v":0.081,"dir":"up"},
      {"i":80,"v":0.082,"dir":"up"},{"i":81,"v":0.070,"dir":"down"},{"i":82,"v":0.081,"dir":"up"},{"i":83,"v":0.204,"dir":"up"},
      {"i":84,"v":0.304,"dir":"up"},{"i":85,"v":0.381,"dir":"up"},{"i":86,"v":0.359,"dir":"down"},{"i":87,"v":0.304,"dir":"down"},
      {"i":88,"v":0.259,"dir":"down"},{"i":89,"v":0.248,"dir":"down"},{"i":90,"v":0.270,"dir":"up"},{"i":91,"v":0.281,"dir":"up"},
      {"i":92,"v":0.304,"dir":"up"},{"i":93,"v":0.305,"dir":"up"},{"i":94,"v":0.293,"dir":"down"},{"i":95,"v":0.248,"dir":"down"},
      {"i":96,"v":0.215,"dir":"down"},{"i":97,"v":0.170,"dir":"down"},{"i":98,"v":0.126,"dir":"down"},{"i":99,"v":0.093,"dir":"down"},
      {"i":100,"v":0.094,"dir":"up"},{"i":101,"v":0.115,"dir":"up"},{"i":102,"v":0.126,"dir":"up"},{"i":103,"v":0.159,"dir":"up"},
      {"i":104,"v":0.160,"dir":"up"},{"i":105,"v":0.161,"dir":"up"},{"i":106,"v":0.158,"dir":"down"},{"i":107,"v":0.137,"dir":"down"},
      {"i":108,"v":0.093,"dir":"down"},{"i":109,"v":0.070,"dir":"down"},{"i":110,"v":0.022,"dir":"down"},{"i":111,"v":0.011,"dir":"down"},
      {"i":112,"v":0.012,"dir":"up"},{"i":113,"v":0.008,"dir":"down"},{"i":114,"v":0.022,"dir":"up"},{"i":115,"v":0.033,"dir":"up"},
      {"i":116,"v":0.056,"dir":"up"},{"i":117,"v":0.100,"dir":"up"},{"i":118,"v":0.126,"dir":"up"},{"i":119,"v":0.137,"dir":"up"},
      {"i":120,"v":0.126,"dir":"down"},{"i":121,"v":0.148,"dir":"up"},{"i":122,"v":0.181,"dir":"up"},{"i":123,"v":0.215,"dir":"up"},
      {"i":124,"v":0.226,"dir":"up"},{"i":125,"v":0.237,"dir":"up"},{"i":126,"v":0.215,"dir":"down"},{"i":127,"v":0.193,"dir":"down"},
      {"i":128,"v":0.194,"dir":"up"},{"i":129,"v":0.259,"dir":"up"},{"i":130,"v":0.304,"dir":"up"},{"i":131,"v":0.359,"dir":"up"},
      {"i":132,"v":0.370,"dir":"up"},{"i":133,"v":0.371,"dir":"up"},{"i":134,"v":0.359,"dir":"down"},{"i":135,"v":0.337,"dir":"down"},
      {"i":136,"v":0.348,"dir":"up"},{"i":137,"v":0.359,"dir":"up"},{"i":138,"v":0.381,"dir":"up"},{"i":139,"v":0.382,"dir":"up"},
      {"i":140,"v":0.370,"dir":"down"},{"i":141,"v":0.348,"dir":"down"},{"i":142,"v":0.318,"dir":"down"},
      {"i":0,"v":-0.037,"dir":"down"},{"i":1,"v":-0.059,"dir":"up"},{"i":2,"v":-0.104,"dir":"up"},{"i":3,"v":-0.093,"dir":"down"},
      {"i":4,"v":-0.070,"dir":"down"},{"i":5,"v":-0.071,"dir":"up"},{"i":6,"v":-0.059,"dir":"down"},{"i":7,"v":-0.004,"dir":"down"},
      {"i":8,"v":-0.093,"dir":"up"},{"i":9,"v":-0.159,"dir":"up"},{"i":10,"v":-0.170,"dir":"up"},{"i":11,"v":-0.148,"dir":"down"},
      {"i":12,"v":-0.059,"dir":"down"},{"i":13,"v":-0.081,"dir":"up"},{"i":14,"v":-0.137,"dir":"up"},{"i":15,"v":-0.093,"dir":"down"},
      {"i":16,"v":-0.081,"dir":"down"},{"i":17,"v":-0.070,"dir":"down"},{"i":18,"v":-0.026,"dir":"down"},{"i":19,"v":-0.019,"dir":"down"},
      {"i":20,"v":-0.037,"dir":"up"},{"i":21,"v":-0.048,"dir":"up"},{"i":22,"v":-0.037,"dir":"down"},{"i":23,"v":-0.059,"dir":"up"},
      {"i":24,"v":-0.060,"dir":"up"},{"i":25,"v":-0.037,"dir":"down"},{"i":26,"v":-0.026,"dir":"down"},{"i":27,"v":-0.025,"dir":"down"},
      {"i":28,"v":-0.026,"dir":"up"},{"i":29,"v":-0.003,"dir":"down"},{"i":30,"v":-0.048,"dir":"up"},{"i":31,"v":-0.115,"dir":"up"},
      {"i":32,"v":-0.148,"dir":"up"},{"i":33,"v":-0.149,"dir":"up"},{"i":34,"v":-0.150,"dir":"up"},{"i":35,"v":-0.181,"dir":"up"},
      {"i":36,"v":-0.248,"dir":"up"},{"i":37,"v":-0.270,"dir":"up"},{"i":38,"v":-0.304,"dir":"up"},{"i":39,"v":-0.337,"dir":"up"},
      {"i":40,"v":-0.359,"dir":"up"},{"i":41,"v":-0.370,"dir":"up"},{"i":42,"v":-0.337,"dir":"down"},{"i":43,"v":-0.304,"dir":"down"},
      {"i":44,"v":-0.270,"dir":"down"},{"i":45,"v":-0.237,"dir":"down"},{"i":46,"v":-0.226,"dir":"down"},{"i":47,"v":-0.237,"dir":"up"},
      {"i":48,"v":-0.248,"dir":"up"},{"i":49,"v":-0.181,"dir":"down"},{"i":50,"v":-0.126,"dir":"down"},{"i":51,"v":-0.081,"dir":"down"},
      {"i":52,"v":-0.059,"dir":"down"},{"i":53,"v":-0.048,"dir":"down"},{"i":54,"v":-0.093,"dir":"up"},{"i":55,"v":-0.181,"dir":"up"},
      {"i":56,"v":-0.204,"dir":"up"},{"i":57,"v":-0.181,"dir":"down"},{"i":58,"v":-0.193,"dir":"up"},{"i":59,"v":-0.204,"dir":"up"},
      {"i":60,"v":-0.181,"dir":"down"},{"i":61,"v":-0.183,"dir":"up"},{"i":62,"v":-0.226,"dir":"up"},{"i":63,"v":-0.270,"dir":"up"},
      {"i":64,"v":-0.281,"dir":"up"},{"i":65,"v":-0.248,"dir":"down"},{"i":66,"v":-0.193,"dir":"down"},{"i":67,"v":-0.159,"dir":"down"},
      {"i":68,"v":-0.148,"dir":"down"},{"i":69,"v":-0.137,"dir":"down"},{"i":70,"v":-0.104,"dir":"down"},{"i":71,"v":-0.070,"dir":"down"},
      {"i":72,"v":-0.037,"dir":"down"},{"i":73,"v":-0.026,"dir":"down"},{"i":74,"v":-0.037,"dir":"up"},{"i":75,"v":-0.048,"dir":"up"},
      {"i":76,"v":-0.037,"dir":"down"},{"i":77,"v":-0.004,"dir":"down"},{"i":78,"v":-0.015,"dir":"up"},{"i":79,"v":-0.026,"dir":"up"},
      {"i":80,"v":-0.002,"dir":"down"},{"i":81,"v":-0.204,"dir":"up"},{"i":82,"v":-0.326,"dir":"up"},{"i":83,"v":-0.327,"dir":"up"},
      {"i":84,"v":-0.281,"dir":"down"},{"i":85,"v":-0.181,"dir":"down"},{"i":86,"v":-0.182,"dir":"up"},{"i":87,"v":-0.183,"dir":"up"},
      {"i":88,"v":-0.193,"dir":"up"},{"i":89,"v":-0.215,"dir":"up"},{"i":90,"v":-0.204,"dir":"down"},{"i":91,"v":-0.203,"dir":"down"},
      {"i":92,"v":-0.170,"dir":"down"},{"i":93,"v":-0.126,"dir":"down"},{"i":94,"v":-0.115,"dir":"down"},{"i":95,"v":-0.026,"dir":"down"},
      {"i":96,"v":-0.027,"dir":"up"},{"i":97,"v":-0.015,"dir":"down"},{"i":98,"v":-0.004,"dir":"down"},{"i":99,"v":-0.003,"dir":"down"},
      {"i":100,"v":-0.015,"dir":"up"},{"i":101,"v":-0.081,"dir":"up"},{"i":102,"v":-0.080,"dir":"down"},{"i":103,"v":-0.059,"dir":"down"},
      {"i":104,"v":-0.081,"dir":"up"},{"i":105,"v":-0.048,"dir":"down"},{"i":106,"v":-0.007,"dir":"down"},{"i":107,"v":-0.015,"dir":"up"},
      {"i":108,"v":-0.059,"dir":"up"},{"i":109,"v":-0.070,"dir":"up"},{"i":110,"v":-0.037,"dir":"down"},{"i":111,"v":-0.036,"dir":"down"},
      {"i":112,"v":-0.048,"dir":"up"},{"i":113,"v":-0.007,"dir":"down"},{"i":114,"v":-0.037,"dir":"up"},{"i":115,"v":-0.081,"dir":"up"},
      {"i":116,"v":-0.104,"dir":"up"},{"i":117,"v":-0.093,"dir":"down"},{"i":118,"v":-0.081,"dir":"down"},{"i":119,"v":-0.115,"dir":"up"},
      {"i":120,"v":-0.159,"dir":"up"},{"i":121,"v":-0.158,"dir":"down"},{"i":122,"v":-0.204,"dir":"up"},{"i":123,"v":-0.193,"dir":"down"},
      {"i":124,"v":-0.148,"dir":"down"},{"i":125,"v":-0.104,"dir":"down"},{"i":126,"v":-0.105,"dir":"up"},{"i":127,"v":-0.126,"dir":"up"},
      {"i":128,"v":-0.204,"dir":"up"},{"i":129,"v":-0.270,"dir":"up"},{"i":130,"v":-0.304,"dir":"up"},{"i":131,"v":-0.303,"dir":"down"},
      {"i":132,"v":-0.259,"dir":"down"},{"i":133,"v":-0.248,"dir":"down"},{"i":134,"v":-0.249,"dir":"up"},{"i":135,"v":-0.270,"dir":"up"},
      {"i":136,"v":-0.281,"dir":"up"},{"i":137,"v":-0.259,"dir":"down"},{"i":138,"v":-0.237,"dir":"down"},{"i":139,"v":-0.215,"dir":"down"},
      {"i":140,"v":-0.181,"dir":"down"}
    ]
  },
  "vconcat": [
    {
      "width": 1224,
      "height": 484,
      "layer": [
        {
          "data": {"name": "candles"},
          "mark": {"type": "rule", "color": "#000000", "strokeWidth": 1, "clip": true},
          "encoding": {
            "x": {"field": "i", "type": "quantitative", "title": null,
              "scale": {"domain": [-0.0625, 152.9375], "nice": false, "zero": false},
              "axis": {"values": [0,4,8,12,16,20,24,28,32,36,40,44,48,52,56,60,64,68,72,76,80,84,88,92,96,100,104,108,112,116,120,124,128,132,136,140,144,148,152],
                "tickCount": 200, "labels": false, "ticks": false, "grid": true, "title": null}},
            "y": {"field": "l", "type": "quantitative", "title": null,
              "scale": {"domain": [149.303, 153.933], "nice": false, "zero": false},
              "axis": {"orient": "right", "values": [149.6,149.91,150.22,150.53,150.84,151.15,151.46,151.77,152.08,152.39,152.7,153.01,153.32,153.63],
                "tickCount": 100, "format": ".3f", "grid": true, "tickSize": 4, "labelPadding": 2, "labelOverlap": false, "title": null}},
            "y2": {"field": "h"}
          }
        },
        {
          "data": {"name": "candles"},
          "mark": {"type": "bar", "width": 4, "stroke": "#000000", "strokeWidth": 1, "clip": true},
          "encoding": {
            "x": {"field": "i", "type": "quantitative", "title": null},
            "y": {"field": "o", "type": "quantitative", "title": null},
            "y2": {"field": "c"},
            "fill": {"condition": {"test": "datum.c >= datum.o", "value": "#ffffff"}, "value": "#000000"}
          }
        },
        {
          "data": {"name": "bid"},
          "mark": {"type": "rule", "color": "#e00000", "strokeWidth": 1},
          "encoding": {"y": {"field": "price", "type": "quantitative", "title": null}}
        },
        {
          "data": {"name": "alligator"},
          "mark": {"type": "line", "strokeWidth": 2, "clip": true},
          "encoding": {
            "x": {"field": "i", "type": "quantitative", "title": null},
            "y": {"field": "v", "type": "quantitative", "title": null},
            "color": {"field": "line", "type": "nominal", "legend": null,
              "scale": {"domain": ["jaw", "teeth", "lips"], "range": ["#0050dc", "#ff0000", "#32c832"]}}
          }
        },
        {
          "data": {"name": "fractalUp"},
          "mark": {"type": "point", "shape": "M0,-0.8L1,0.8L0,0.3L-1,0.8Z", "size": 121, "filled": true,
            "fill": "#111111", "stroke": "#8aa6cc", "strokeWidth": 0.7, "opacity": 1, "yOffset": -8, "clip": true},
          "encoding": {
            "x": {"field": "i", "type": "quantitative", "title": null},
            "y": {"field": "price", "type": "quantitative", "title": null}
          }
        },
        {
          "data": {"name": "fractalDown"},
          "mark": {"type": "point", "shape": "M0,0.8L1,-0.8L0,-0.3L-1,-0.8Z", "size": 121, "filled": true,
            "fill": "#111111", "stroke": "#8aa6cc", "strokeWidth": 0.7, "opacity": 1, "yOffset": 7, "clip": true},
          "encoding": {
            "x": {"field": "i", "type": "quantitative", "title": null},
            "y": {"field": "price", "type": "quantitative", "title": null}
          }
        },
        {
          "data": {"name": "signal"},
          "mark": {"type": "point", "shape": "M0,-1L0.9,-0.1L0.42,-0.1L0.42,1L-0.42,1L-0.42,-0.1L-0.9,-0.1Z", "size": 380,
            "filled": true, "fill": "#ffffff", "stroke": "#3cc83c", "strokeWidth": 1.5, "opacity": 1},
          "encoding": {
            "x": {"field": "i", "type": "quantitative", "title": null},
            "y": {"field": "price", "type": "quantitative", "title": null}
          }
        },
        {
          "data": {"name": "bid"},
          "mark": {"type": "rect", "fill": "#c80000", "clip": false},
          "encoding": {
            "x": {"datum": 153.3, "type": "quantitative"},
            "x2": {"datum": 158.2},
            "y": {"datum": 153.611, "type": "quantitative"},
            "y2": {"datum": 153.517}
          }
        },
        {
          "data": {"name": "bid"},
          "mark": {"type": "text", "align": "left", "baseline": "middle", "color": "#ffffff", "fontSize": 9.5, "font": "Liberation Sans", "clip": false},
          "encoding": {
            "x": {"datum": 153.6, "type": "quantitative"},
            "y": {"field": "price", "type": "quantitative", "title": null},
            "text": {"field": "label"}
          }
        }
      ]
    },
    {
      "width": 1224,
      "height": 101,
      "title": {"text": "AO 0.7341", "anchor": "start", "frame": "group", "offset": -13, "dx": 3},
      "data": {"name": "ao"},
      "mark": {"type": "bar", "width": 4},
      "encoding": {
        "x": {"field": "i", "type": "quantitative", "title": null,
          "scale": {"domain": [-0.0625, 152.9375], "nice": false, "zero": false},
          "axis": {"values": [0,4,8,12,16,20,24,28,32,36,40,44,48,52,56,60,64,68,72,76,80,84,88,92,96,100,104,108,112,116,120,124,128,132,136,140,144,148,152],
            "tickCount": 200, "labels": false, "ticks": false, "grid": true, "title": null}},
        "y": {"field": "v", "type": "quantitative", "title": null,
          "scale": {"domain": [-0.406, 1.0126], "nice": false, "zero": false},
          "axis": {"orient": "right", "values": [1.0126, 0, -0.406], "tickCount": 20, "format": ".4f", "tickSize": 4, "labelPadding": 2, "grid": true, "labelOverlap": false,
            "gridOpacity": {"condition": {"test": "datum.value === 0", "value": 1}, "value": 0},
            "labelBaseline": {"condition": [{"test": "datum.value > 0", "value": "top"}, {"test": "datum.value < 0", "value": "bottom"}], "value": "middle"}}},
        "y2": {"datum": 0},
        "color": {"field": "dir", "type": "nominal", "legend": null,
          "scale": {"domain": ["up", "down"], "range": ["#008000", "#ff0000"]}}
      }
    },
    {
      "width": 1224,
      "height": 100,
      "title": {"text": "AC -0.03903", "anchor": "start", "frame": "group", "offset": -13, "dx": 3},
      "data": {"name": "ac"},
      "mark": {"type": "bar", "width": 4},
      "encoding": {
        "x": {"field": "i", "type": "quantitative", "title": null,
          "scale": {"domain": [-0.0625, 152.9375], "nice": false, "zero": false},
          "axis": {"values": [0,4,8,12,16,20,24,28,32,36,40,44,48,52,56,60,64,68,72,76,80,84,88,92,96,100,104,108,112,116,120,124,128,132,136,140,144,148,152],
            "tickCount": 200, "labels": false, "ticks": false, "grid": true, "title": null}},
        "y": {"field": "v", "type": "quantitative", "title": null,
          "scale": {"domain": [-0.32363, 0.35387], "nice": false, "zero": false},
          "axis": {"orient": "right", "values": [0.35387, 0, -0.32363], "tickCount": 20, "format": ".5f", "tickSize": 4, "labelPadding": 2, "grid": true, "labelOverlap": false,
            "gridOpacity": {"condition": {"test": "datum.value === 0", "value": 1}, "value": 0},
            "labelBaseline": {"condition": [{"test": "datum.value > 0", "value": "top"}, {"test": "datum.value < 0", "value": "bottom"}], "value": "middle"}}},
        "y2": {"datum": 0},
        "color": {"field": "dir", "type": "nominal", "legend": null,
          "scale": {"domain": ["up", "down"], "range": ["#008000", "#ff0000"]}}
      }
    },
    {
      "width": 1224,
      "height": 83,
      "title": {"text": "Gator(13,8,5) 0.3179 0.0000", "anchor": "start", "frame": "group", "offset": -13, "dx": 3},
      "data": {"name": "gator"},
      "mark": {"type": "bar", "width": 4},
      "encoding": {
        "x": {"field": "i", "type": "quantitative", "title": null,
          "scale": {"domain": [-0.0625, 152.9375], "nice": false, "zero": false},
          "axis": {"values": [0,4,8,12,16,20,24,28,32,36,40,44,48,52,56,60,64,68,72,76,80,84,88,92,96,100,104,108,112,116,120,124,128,132,136,140,144,148,152],
            "tickCount": 200, "grid": true, "title": null, "tickSize": 4,
            "tickOpacity": {"condition": {"test": "datum.value % 8 === 0 && datum.value <= 136", "value": 1}, "value": 0},
            "labelAlign": "left", "labelBaseline": "top", "labelPadding": 2, "labelOverlap": false, "labelFlush": false, "labelBound": false,
            "labelExpr": "datum.value % 8 === 0 && datum.value <= 136 ? ['6 Dec 2024','6 Dec 14:00','6 Dec 22:00','9 Dec 06:00','9 Dec 14:00','9 Dec 22:00','10 Dec 06:00','10 Dec 14:00','10 Dec 22:00','11 Dec 06:00','11 Dec 14:00','11 Dec 22:00','12 Dec 06:00','12 Dec 14:00','12 Dec 22:00','13 Dec 06:00','13 Dec 14:00','13 Dec 22:00'][datum.value / 8] : ''"}},
        "y": {"field": "v", "type": "quantitative", "title": null,
          "scale": {"domain": [-0.4561, 0.4693], "nice": false, "zero": false},
          "axis": {"orient": "right", "values": [0.4693, 0, -0.4561], "tickCount": 20, "format": ".4f", "tickSize": 4, "labelPadding": 2, "grid": true, "labelOverlap": false,
            "gridOpacity": {"condition": {"test": "datum.value === 0", "value": 1}, "value": 0},
            "labelBaseline": {"condition": [{"test": "datum.value > 0", "value": "top"}, {"test": "datum.value < 0", "value": "bottom"}], "value": "middle"}}},
        "y2": {"datum": 0},
        "color": {"field": "dir", "type": "nominal", "legend": null,
          "scale": {"domain": ["up", "down"], "range": ["#008000", "#ff0000"]}}
      }
    }
  ]
}
